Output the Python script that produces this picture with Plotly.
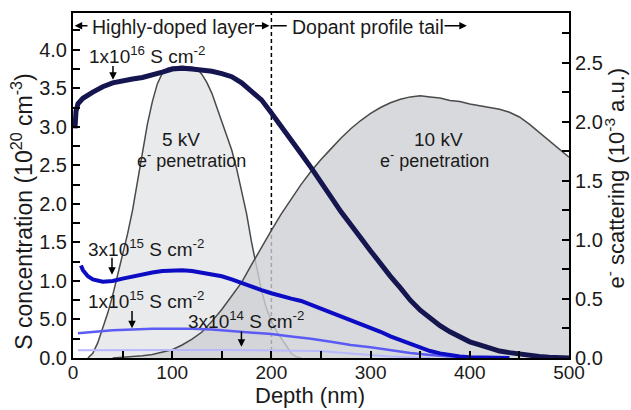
import plotly.graph_objects as go

# ---------------- data ----------------
# S concentration profiles, 10^20 cm^-3 (left axis)
depth_1e16 = [2, 3, 5, 10, 20, 30, 40, 50, 60, 70, 80, 90, 100, 110, 120, 130, 140, 150,
              160, 170, 180, 190, 200, 210, 220, 230, 240, 250, 260, 270, 280, 290, 300,
              310, 320, 330, 340, 350, 360, 370, 380, 390, 400, 410, 420, 430, 440, 450,
              460, 470, 480, 490, 500]
conc_1e16 = [2.98, 3.2, 3.3, 3.37, 3.45, 3.52, 3.57, 3.6, 3.62, 3.64, 3.67, 3.71, 3.75, 3.76,
             3.75, 3.74, 3.72, 3.69, 3.65, 3.57, 3.47, 3.35, 3.18, 3.01, 2.83, 2.65, 2.47,
             2.29, 2.09, 1.9, 1.72, 1.56, 1.39, 1.22, 1.06, 0.91, 0.75, 0.62, 0.51, 0.42,
             0.34, 0.27, 0.21, 0.17, 0.13, 0.09, 0.07, 0.05, 0.03, 0.02, 0.01, 0.005, 0.0]

depth_3e15 = [8, 10, 15, 20, 30, 40, 50, 60, 70, 80, 90, 100, 110, 120, 130, 140, 150, 160,
              170, 180, 190, 200, 210, 220, 230, 240, 250, 260, 270, 280, 290, 300, 310,
              320, 330, 340, 350, 360, 370, 380, 390, 400, 420, 440]
conc_3e15 = [1.2, 1.14, 1.06, 1.02, 0.99, 1.0, 1.03, 1.06, 1.09, 1.11, 1.13, 1.14, 1.14, 1.13,
             1.11, 1.09, 1.06, 1.02, 0.97, 0.93, 0.88, 0.84, 0.8, 0.77, 0.74, 0.69, 0.65,
             0.6, 0.54, 0.49, 0.44, 0.39, 0.34, 0.28, 0.23, 0.18, 0.13, 0.09, 0.06, 0.035,
             0.02, 0.01, 0.005, 0.0]

depth_1e15 = [5, 20, 40, 60, 80, 100, 120, 140, 160, 180, 200, 220, 240, 260, 280, 300,
              320, 340, 360, 380, 400, 420]
conc_1e15 = [0.32, 0.34, 0.36, 0.37, 0.38, 0.38, 0.38, 0.37, 0.35, 0.33, 0.31, 0.28, 0.25,
             0.21, 0.17, 0.14, 0.1, 0.065, 0.04, 0.02, 0.01, 0.0]

depth_3e14 = [5, 50, 100, 150, 200, 250, 280, 300, 320, 340, 360]
conc_3e14 = [0.1, 0.105, 0.105, 0.105, 0.1, 0.09, 0.06, 0.04, 0.02, 0.01, 0.0]

# e- scattering (penetration) profiles, 10^-3 a.u. (right axis)
depth_5kv = [15, 20, 25, 30, 35, 40, 45, 50, 55, 60, 65, 70, 75, 80, 85, 90, 95, 100, 110,
             120, 125, 130, 135, 140, 145, 150, 155, 160, 165, 170, 175, 180, 185, 190,
             195, 200, 205, 210, 215, 220, 225, 230]
scat_5kv = [0.0, 0.04, 0.13, 0.25, 0.38, 0.53, 0.7, 0.87, 1.05, 1.25, 1.5, 1.75, 1.98, 2.17,
            2.32, 2.41, 2.45, 2.46, 2.47, 2.46, 2.45, 2.4, 2.33, 2.24, 2.12, 2.0, 1.88,
            1.76, 1.6, 1.42, 1.22, 0.98, 0.76, 0.57, 0.42, 0.31, 0.23, 0.17, 0.1, 0.04,
            0.01, 0.0]

depth_10kv = [40, 50, 60, 70, 80, 90, 100, 110, 120, 130, 140, 150, 160, 170, 180, 190, 200,
              210, 220, 230, 240, 250, 260, 270, 280, 290, 300, 310, 320, 330, 340, 350,
              360, 370, 380, 390, 400, 410, 420, 430, 440, 450, 460, 470, 480, 490, 500]
scat_10kv = [0.0, 0.005, 0.012, 0.02, 0.03, 0.05, 0.07, 0.11, 0.16, 0.22, 0.31, 0.41, 0.52,
             0.64, 0.79, 0.94, 1.08, 1.22, 1.35, 1.47, 1.58, 1.68, 1.77, 1.86, 1.94, 2.01,
             2.07, 2.12, 2.16, 2.19, 2.21, 2.22, 2.21, 2.2, 2.18, 2.17, 2.15, 2.135, 2.12,
             2.105, 2.08, 2.04, 1.98, 1.91, 1.84, 1.77, 1.70]

boundary_depth = 200  # highly-doped layer / tail boundary (nm)

left_ticks = [0, 0.5, 1.0, 1.5, 2.0, 2.5, 3.0, 3.5, 4.0]
left_ticktext = ["0.0", "5.0", "1.0", "1.5", "2.0", "2.5", "3.0", "3.5", "4.0"]

LEFT_MAX = 4.477
RIGHT_MAX = 2.92

FONT = "Liberation Sans, Arial, sans-serif"
TXT = "#1a1a1a"

fig = go.Figure()

# 5 kV penetration (light fill)
fig.add_trace(go.Scatter(x=depth_5kv, y=scat_5kv, mode="lines", fill="tozeroy",
                         fillcolor="#e9eaec", line=dict(color="#4a4a4a", width=1.5),
                         yaxis="y", showlegend=False, hoverinfo="skip"))
# boundary dashed line
fig.add_trace(go.Scatter(x=[boundary_depth, boundary_depth], y=[0, RIGHT_MAX], mode="lines",
                         line=dict(color="black", width=1.5, dash="4px,3px"),
                         yaxis="y", showlegend=False, hoverinfo="skip"))
# 10 kV penetration (semi-transparent darker fill)
fig.add_trace(go.Scatter(x=depth_10kv, y=scat_10kv, mode="lines", fill="tozeroy",
                         fillcolor="rgba(206,207,211,0.8)", line=dict(color="#4a4a4a", width=1.5),
                         yaxis="y", showlegend=False, hoverinfo="skip"))

# S concentration profiles on left axis (overlaying -> drawn on top)
for xs, ys, col, w in [
    (depth_3e14, conc_3e14, "#b8b8ff", 2),
    (depth_1e15, conc_1e15, "#5c5cf4", 2.5),
    (depth_3e15, conc_3e15, "#0c0cc4", 4),
    (depth_1e16, conc_1e16, "#15154f", 5),
]:
    fig.add_trace(go.Scatter(x=xs, y=ys, mode="lines", line=dict(color=col, width=w),
                             yaxis="y2", showlegend=False, hoverinfo="skip"))

ann = []

def text_ann(x, y, text, size=19, xanchor="center"):
    ann.append(dict(x=x, y=y, xref="x", yref="y2", text=text, showarrow=False,
                    xanchor=xanchor, yanchor="middle",
                    font=dict(family=FONT, size=size, color=TXT)))

def arrow_ann(x, y, ax, ay, head=2):
    ann.append(dict(x=x, y=y, ax=ax, ay=ay, xref="x", yref="y2", axref="x", ayref="y2",
                    text="", showarrow=True, arrowhead=head, arrowsize=1, arrowwidth=1.5,
                    arrowcolor="black", standoff=0, startstandoff=0))

# header
text_ann(17.5, 4.30, "Highly-doped layer", size=19.5, xanchor="left")
text_ann(218.5, 4.30, "Dopant profile tail", size=19.5, xanchor="left")
arrow_ann(1.7, 4.31, 16.1, 4.31)
arrow_ann(198, 4.31, 182, 4.31)
arrow_ann(201, 4.31, 217, 4.31, head=0)
arrow_ann(397, 4.31, 373, 4.31)

# dose labels
text_ann(74.3, 3.93, "1x10<sup>16</sup> S cm<sup>-2</sup>")
arrow_ann(40.3, 3.61, 40.3, 3.81)
text_ann(73.1, 1.425, "3x10<sup>15</sup> S cm<sup>-2</sup>")
arrow_ann(39.3, 1.08, 39.3, 1.32)
text_ann(73.1, 0.75, "1x10<sup>15</sup> S cm<sup>-2</sup>")
arrow_ann(59.5, 0.386, 59.5, 0.63)
text_ann(174.8, 0.49, "3x10<sup>14</sup> S cm<sup>-2</sup>")
arrow_ann(169.8, 0.147, 169.8, 0.364)

# penetration labels
text_ann(109, 2.83, "5 kV")
text_ann(119, 2.58, "e<sup>-</sup> penetration", size=18)
text_ann(368.6, 2.83, "10 kV")
text_ann(364, 2.58, "e<sup>-</sup> penetration", size=18)

# axis titles
ann.append(dict(x=-0.103, y=0.4236, xref="paper", yref="paper", showarrow=False,
                text="S concentration (10<sup>20</sup> cm<sup>-3</sup>)", textangle=-90,
                xanchor="center", yanchor="middle",
                font=dict(family=FONT, size=23, color=TXT)))
ann.append(dict(x=1.092, y=0.522, xref="paper", yref="paper", showarrow=False,
                text="e<sup>-</sup> scattering (10<sup>-3</sup> a.u.)", textangle=-90,
                xanchor="center", yanchor="middle",
                font=dict(family=FONT, size=22, color=TXT)))
ann.append(dict(x=0.477, y=-0.11, xref="paper", yref="paper", showarrow=False,
                text="Depth (nm)", xanchor="center", yanchor="middle",
                font=dict(family=FONT, size=22, color=TXT)))

tick_common = dict(ticks="inside", ticklen=7, tickwidth=1.5, tickcolor="black",
                   showline=True, linecolor="black", linewidth=2, showgrid=False,
                   zeroline=False, tickfont=dict(family=FONT, size=20, color=TXT))
minor_common = dict(ticks="inside", ticklen=7, tickwidth=1.5, tickcolor="black", showgrid=False)

xaxis_cfg = dict(tick_common)
xaxis_cfg["tickfont"] = dict(family=FONT, size=19, color=TXT)

fig.update_layout(
    width=631, height=410,
    margin=dict(l=73, r=62, t=13, b=52),
    paper_bgcolor="white", plot_bgcolor="white",
    showlegend=False,
    annotations=ann,
    xaxis=dict(range=[0, 500], tick0=0, dtick=100, mirror=True, ticklabelstandoff=-4,
               minor=dict(dtick=50, **minor_common), **xaxis_cfg),
    yaxis=dict(range=[0, RIGHT_MAX], side="right", tick0=0, dtick=0.5, tickformat=".1f",
               minor=dict(dtick=0.25, **minor_common), **tick_common),
    yaxis2=dict(range=[0, LEFT_MAX], side="left", overlaying="y", anchor="x",
                tickvals=left_ticks, ticktext=left_ticktext,
                minor=dict(dtick=0.25, **minor_common), **tick_common),
)

fig.write_html("out.html")
